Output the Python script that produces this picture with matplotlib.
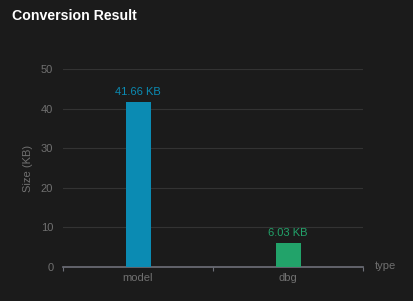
import matplotlib
matplotlib.use('Agg')
import matplotlib.pyplot as plt

plt.rcParams['font.family'] = ['Liberation Sans', 'DejaVu Sans']

# data
categories = ['model', 'dbg']
sizes_kb = [41.66, 6.03]
bar_colors = ['#0b8bb3', '#22a36a']
yticks = [0, 10, 20, 30, 40, 50]

bg = '#1b1b1b'
axis_col = '#6e7079'
text_col = '#707070'

fig = plt.figure(figsize=(4.13, 3.01), dpi=100, facecolor=bg)
ax = fig.add_axes([63 / 413, 34 / 301, 300 / 413, 198 / 301])
ax.set_facecolor(bg)

x = list(range(len(categories)))
ax.bar(x, sizes_kb, width=1 / 6, color=bar_colors, zorder=3)
for xi, v, c in zip(x, sizes_kb, bar_colors):
    ax.text(xi, v + 1.3, f'{v:.2f} KB', ha='center', va='bottom',
            color=c, fontsize=8)

ax.set_xlim(-0.5, len(categories) - 0.5)
ax.set_ylim(0, 50)
ax.set_yticks(yticks)
ax.yaxis.grid(True, color='#333333', linewidth=0.8, zorder=0)

# category boundaries as ticks, labels at centers
ax.set_xticks([-0.5, 0.5, 1.5])
ax.set_xticklabels([])
ax.set_xticks(x, minor=True)
ax.set_xticklabels(categories, minor=True)
ax.tick_params(axis='x', which='major', length=3, color=axis_col, direction='out')
ax.tick_params(axis='x', which='minor', length=0, colors=text_col,
               labelsize=8, pad=4)
ax.tick_params(axis='y', length=0, colors=text_col, labelsize=8, pad=7)

for s in ['top', 'right', 'left']:
    ax.spines[s].set_visible(False)
ax.spines['bottom'].set_color(axis_col)
ax.spines['bottom'].set_linewidth(1.2)

ax.set_ylabel('Size (KB)', color=text_col, fontsize=8, labelpad=6)
fig.text(375 / 413, 1 - 266 / 301, 'type', color=text_col, fontsize=8,
         ha='left', va='center')

fig.text(12 / 413, 1 - 16 / 301, 'Conversion Result', color='white',
         fontsize=10.2, fontweight='bold', ha='left', va='center')

fig.savefig('out.png', dpi=100, facecolor=bg)
